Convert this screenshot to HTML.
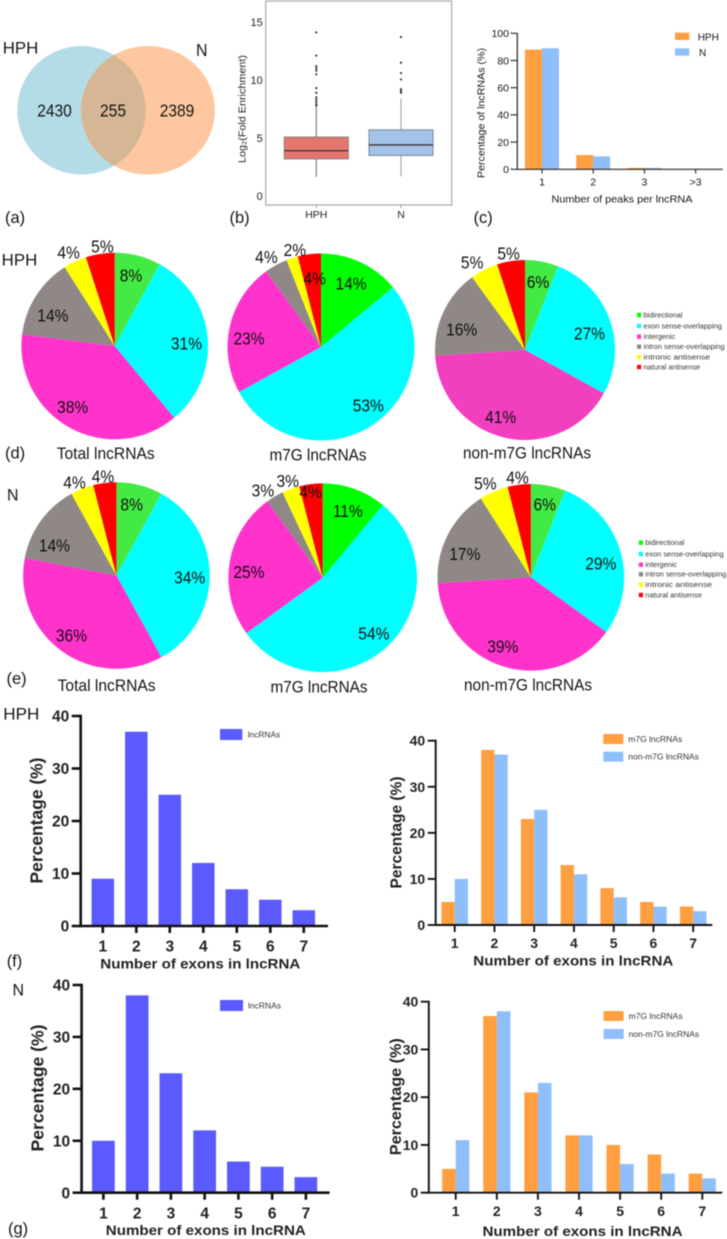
<!DOCTYPE html>
<html lang="en">
<head>
<meta charset="utf-8">
<title>lncRNA m7G multi-panel figure</title>
<style>
html,body{margin:0;padding:0;background:#fff;width:727px;height:1239px;overflow:hidden}
svg{display:block;filter:blur(.45px)}
text{font-family:"Liberation Sans",Arial,sans-serif;fill:#151515}
</style>
</head>
<body>
<svg id="fig" xmlns="http://www.w3.org/2000/svg" width="727" height="1239" viewBox="0 0 727 1239">
  <defs><clipPath id="vennClip"><ellipse cx="81.5" cy="110.3" rx="64.3" ry="64.3"/></clipPath></defs>

  <g>
    <ellipse cx="81.5" cy="110.3" rx="64.3" ry="64.3" fill="#b4dce7"/>
    <ellipse cx="148" cy="110.3" rx="67" ry="64.3" fill="#fdc8a0"/>
    <ellipse cx="148" cy="110.3" rx="67" ry="64.3" fill="#d6b795" clip-path="url(#vennClip)"/>
    <text x="54.500" y="116.500" font-size="17.500" text-anchor="middle" textLength="34.500" lengthAdjust="spacingAndGlyphs">2430</text>
    <text x="113" y="116.500" font-size="17.500" text-anchor="middle" textLength="26" lengthAdjust="spacingAndGlyphs">255</text>
    <text x="177" y="116.500" font-size="17.500" text-anchor="middle" textLength="34.500" lengthAdjust="spacingAndGlyphs">2389</text>
    <text x="2.700" y="53.300" font-size="17" textLength="35.600" lengthAdjust="spacingAndGlyphs">HPH</text>
    <text x="196" y="56" font-size="17.500" textLength="11.500" lengthAdjust="spacingAndGlyphs">N</text>
  </g>

  <g font-size="16.500">
    <text x="5" y="223">(a)</text>
    <text x="229.500" y="223">(b)</text>
    <text x="473.500" y="223">(c)</text>
    <text x="5" y="458.500">(d)</text>
    <text x="6.500" y="684">(e)</text>
    <text x="6.700" y="966.500">(f)</text>
    <text x="8" y="1234">(g)</text>
    <text x="1.700" y="265.700" font-size="16.500" textLength="35.600" lengthAdjust="spacingAndGlyphs">HPH</text>
    <text x="7" y="500.500" font-size="16.500" textLength="11.500" lengthAdjust="spacingAndGlyphs">N</text>
    <text x="3.300" y="719.300" font-size="17" textLength="36" lengthAdjust="spacingAndGlyphs">HPH</text>
    <text x="12.500" y="995.500" font-size="16.500" textLength="11.500" lengthAdjust="spacingAndGlyphs">N</text>
  </g>

  <g font-size="17">
    <text x="105.700" y="459" text-anchor="middle" textLength="98" lengthAdjust="spacingAndGlyphs">Total lncRNAs</text>
    <text x="318" y="460.500" text-anchor="middle" textLength="97" lengthAdjust="spacingAndGlyphs">m7G lncRNAs</text>
    <text x="527" y="458.500" text-anchor="middle" textLength="128" lengthAdjust="spacingAndGlyphs">non-m7G lncRNAs</text>
    <text x="106.600" y="691" text-anchor="middle" textLength="98" lengthAdjust="spacingAndGlyphs">Total lncRNAs</text>
    <text x="319" y="692.500" text-anchor="middle" textLength="97" lengthAdjust="spacingAndGlyphs">m7G lncRNAs</text>
    <text x="528" y="690.500" text-anchor="middle" textLength="128" lengthAdjust="spacingAndGlyphs">non-m7G lncRNAs</text>
  </g>
</svg>

<script>
// ---------- chart data ----------
const boxCategories = ['HPH', 'N'];
const boxTicks = [0, 5, 10, 15];
const boxLow = [1.65, 1.7];
const boxQ1 = [3.2, 3.5];
const boxMedian = [3.9, 4.4];
const boxQ3 = [5.08, 5.7];
const boxHigh = [7.7, 8.4];
const boxOutliersHph = [14.1, 12.1, 11.2, 11, 10.8, 10.5, 9.3, 8.9, 8.5, 8.3, 8.1, 7.9, 7.8];
const boxOutliersN = [13.7, 11.5, 10.6, 10.05, 9.2, 9.05, 8.9];

const peakCategories = ['1', '2', '3', '>3'];
const peakTicks = [0, 20, 40, 60, 80, 100];
const peakHph = [88, 10.5, 1, 0.2];
const peakN = [89, 9.5, 1, 0.2];

const pieCategories = ['bidirectional', 'exon sense-overlapping', 'intergenic', 'intron sense-overlapping', 'intronic antisense', 'natural antisense'];
const hphTotal = [8, 31, 38, 14, 4, 5];
const hphM7g = [14, 53, 23, 4, 2, 4];
const hphNonM7g = [6, 27, 41, 16, 5, 5];
const nTotal = [8, 34, 36, 14, 4, 4];
const nM7g = [11, 54, 25, 3, 3, 4];
const nNonM7g = [6, 29, 39, 17, 5, 4];

const exonCategories = ['1', '2', '3', '4', '5', '6', '7'];
const exonTicks = [0, 10, 20, 30, 40];
const hphExonAll = [9, 37, 25, 12, 7, 5, 3];
const hphExonM7g = [5, 38, 23, 13, 8, 5, 4];
const hphExonNon = [10, 37, 25, 11, 6, 4, 3];
const nExonAll = [10, 38, 23, 12, 6, 5, 3];
const nExonM7g = [5, 37, 21, 12, 10, 8, 4];
const nExonNon = [11, 38, 23, 12, 6, 4, 3];

// ---------- helpers ----------
const SVGNS = 'http://www.w3.org/2000/svg';
const fig = document.getElementById('fig');
const ORANGE = '#ff9f40';
const BLUE = '#8fbffa';
const INDIGO = '#5a5aff';

function shape(parent, tag, name, props) {
  const el = document.createElementNS(SVGNS, tag);
  
  
  for (const k in props) el.setAttribute(k, props[k]);
  parent.appendChild(el);
  return el;
}
function group(name) {
  const el = document.createElementNS(SVGNS, 'g');
  
  
  fig.appendChild(el);
  return el;
}
function label(parent, name, str, x, y, size, o) {
  o = o || {};
  const el = document.createElementNS(SVGNS, 'text');
  
  
  el.setAttribute('transform', 'translate(' + x + ',' + y + ') rotate(' + (o.rot || 0) + ') scale(' + (o.sx || 1) + ',1)');
  el.setAttribute('font-size', size);
  el.setAttribute('text-anchor', o.anchor || 'middle');
  if (o.weight) el.setAttribute('font-weight', o.weight);
  if (o.fill) el.style.fill = o.fill;
  if (o.len) {
    el.setAttribute('textLength', o.len);
    el.setAttribute('lengthAdjust', 'spacingAndGlyphs');
  }
  el.textContent = str;
  parent.appendChild(el);
  return el;
}

// ---------- box plot (b) ----------
function drawBoxPlot() {
  const g = group('box-plot');
  const yScale = v => 196 - v * 11.6;
  const xCenters = i => 316.3 + i * 84.7;
  const halfW = 32;
  shape(g, 'rect', 'box-plot-frame', {x: 265.7, y: 1, width: 186, height: 204, fill: 'none', stroke: '#a8a8a8', 'stroke-width': 1.2});
  boxTicks.forEach(t => {
    label(g, 'box-y-tick-label', String(t), 262.7, yScale(t) + 4, 11, {anchor: 'end', fill: '#222'});
  });
  const fills = ['#e5756f', '#a4c3e8'];
  const edges = ['#8f7f7f', '#7d8ea0'];
  const whiskers = ['#777', '#a0a0a0'];
  const outliers = [boxOutliersHph, boxOutliersN];
  boxCategories.forEach((c, i) => {
    const cx = xCenters(i);
    shape(g, 'line', 'box-whisker-' + c, {x1: cx, x2: cx, y1: yScale(boxLow[i]), y2: yScale(boxHigh[i]), stroke: whiskers[i], 'stroke-width': 1.1});
    shape(g, 'rect', 'box-' + c, {x: cx - halfW, y: yScale(boxQ3[i]), width: halfW * 2, height: yScale(boxQ1[i]) - yScale(boxQ3[i]), fill: fills[i], stroke: edges[i], 'stroke-width': 1.1});
    shape(g, 'line', 'box-median-' + c, {x1: cx - halfW, x2: cx + halfW, y1: yScale(boxMedian[i]), y2: yScale(boxMedian[i]), stroke: '#3a3038', 'stroke-width': 1.3});
    outliers[i].forEach(v => {
      shape(g, 'circle', 'box-outlier-' + c, {cx: cx, cy: yScale(v), r: 1.1, fill: '#333'});
    });
    shape(g, 'line', 'box-x-tick', {x1: cx, x2: cx, y1: 205, y2: 208, stroke: '#999', 'stroke-width': 1});
    label(g, 'box-x-tick-label', c, cx, 218, 10.5, {fill: '#222'});
  });
  label(g, 'box-y-axis-title', 'Log\u2082(Fold Enrichment)', 245.7, 109, 10.5, {rot: -90, len: 108, fill: '#222'});
}
drawBoxPlot();

// ---------- peak bars (c) ----------
function drawPeakChart() {
  const g = group('peak-bar-chart');
  const yScale = v => 169.3 - v * 1.36;
  const xScale = i => 542 + i * 51.2;
  const bw = 17;
  peakCategories.forEach((c, i) => {
    shape(g, 'rect', 'peak-bar-hph-' + c, {x: xScale(i) - bw, y: yScale(peakHph[i]), width: bw, height: 169.3 - yScale(peakHph[i]), fill: ORANGE});
    shape(g, 'rect', 'peak-bar-n-' + c, {x: xScale(i), y: yScale(peakN[i]), width: bw, height: 169.3 - yScale(peakN[i]), fill: BLUE});
    shape(g, 'line', 'peak-x-tick', {x1: xScale(i), x2: xScale(i), y1: 169.3, y2: 173.5, stroke: '#222', 'stroke-width': 1.1});
    label(g, 'peak-x-tick-label', c, xScale(i), 185.5, 10.5);
  });
  peakTicks.forEach(t => {
    shape(g, 'line', 'peak-y-tick', {x1: 510.5, x2: 517.3, y1: yScale(t), y2: yScale(t), stroke: '#222', 'stroke-width': 1.1});
    label(g, 'peak-y-tick-label', String(t), 509, yScale(t) + 3.8, 10.5, {anchor: 'end'});
  });
  shape(g, 'line', 'peak-y-axis', {x1: 517.3, x2: 517.3, y1: 33, y2: 169.9, stroke: '#222', 'stroke-width': 1.2});
  shape(g, 'line', 'peak-x-axis', {x1: 517.3, x2: 722.7, y1: 169.3, y2: 169.3, stroke: '#222', 'stroke-width': 1.2});
  label(g, 'peak-x-axis-title', 'Number of peaks per lncRNA', 622, 202.5, 10.5, {len: 141});
  label(g, 'peak-y-axis-title', 'Percentage of lncRNAs (%)', 484.5, 113, 10.5, {rot: -90, len: 130});
  shape(g, 'rect', 'peak-legend-swatch-hph', {x: 675, y: 32.7, width: 14.3, height: 7.3, fill: ORANGE});
  shape(g, 'rect', 'peak-legend-swatch-n', {x: 675, y: 48.3, width: 14.3, height: 7.4, fill: BLUE});
  label(g, 'peak-legend-label-hph', 'HPH', 697.7, 40.5, 10, {anchor: 'start'});
  label(g, 'peak-legend-label-n', 'N', 699, 55.8, 10, {anchor: 'start'});
}
drawPeakChart();

// ---------- pies (d, e) ----------
function drawPie(name, values, cx, cy, r, colors, placement) {
  const g = group(name);
  const total = values.reduce((a, b) => a + b, 0);
  const pt = (deg, rad) => [cx + rad * Math.sin(deg * Math.PI / 180), cy - rad * Math.cos(deg * Math.PI / 180)];
  let acc = 0;
  values.forEach((v, i) => {
    const a0 = acc / total * 360;
    const a1 = (acc + v) / total * 360;
    const p0 = pt(a0, r);
    const p1 = pt(a1, r);
    const large = a1 - a0 > 180 ? 1 : 0;
    shape(g, 'path', name + '-slice-' + pieCategories[i].replace(/ /g, '-'), {
      d: 'M' + cx + ' ' + cy + 'L' + p0[0] + ' ' + p0[1] + 'A' + r + ' ' + r + ' 0 ' + large + ' 1 ' + p1[0] + ' ' + p1[1] + 'Z',
      fill: colors[i]
    });
    acc += v;
  });
  acc = 0;
  values.forEach((v, i) => {
    const mid = (acc + v / 2) / total * 360;
    const pos = pt(mid + placement[i][1], r * placement[i][0]);
    label(g, name + '-label-' + pieCategories[i].replace(/ /g, '-'), v + '%', pos[0], pos[1] + 6.3, 17.5, {sx: 0.89, fill: '#111'});
    acc += v;
  });
}
const softGreen = ['#44ea44', '#00ffff', '#ff33cc', '#8f8886', '#ffff00', '#ff0000'];
const pureGreen = ['#00ff00', '#00ffff', '#ff33cc', '#8f8886', '#ffff00', '#ff0000'];
const softMagenta = ['#44ea44', '#00ffff', '#f23fc0', '#8f8886', '#ffff00', '#ff0000'];
drawPie('pie-hph-total', hphTotal, 114.7, 346, 93.3, softGreen, [[.78,-1.5],[.77,3],[.79,6],[.74,-6],[1.12,-1],[1.08,2]]);
drawPie('pie-hph-m7g', hphM7g, 321, 347, 93.5, pureGreen, [[.755,0],[.8,-5],[.775,-5.7],[1.13,-2.3],[1.08,3],[.74,2]]);
drawPie('pie-hph-non-m7g', hphNonM7g, 525, 350, 90, softMagenta, [[.77,0],[.74,5.3],[.79,7.4],[.74,-7.1],[1.14,-4],[1.09,-.6]]);
drawPie('pie-n-total', nTotal, 116.4, 575.5, 93.3, softGreen, [[.78,-2.3],[.785,1.4],[.8,1],[.74,-9.9],[1.095,-2.6],[1.076,-.5]]);
drawPie('pie-n-m7g', nM7g, 322.7, 577.7, 94.3, pureGreen, [[.76,.7],[.8,.5],[.785,-4.3],[1.125,-3.7],[1.095,0],[.92,-.8]]);
drawPie('pie-n-non-m7g', nNonM7g, 530.8, 577.3, 93.3, softGreen, [[.795,0],[.765,4.9],[.795,6],[.75,-7.5],[1.12,-2.4],[1.08,-.4]]);

function drawPieLegend(name, x, rows) {
  const g = group(name);
  const widths = [39, 78.3, 31.7, 81, 66.7, 56.7];
  pieCategories.forEach((c, i) => {
    shape(g, 'rect', name + '-swatch', {x: x, y: rows[i] - 2.2, width: 4.2, height: 4.4, fill: pureGreen[i]});
    label(g, name + '-label', c, x + 6.5, rows[i] + 2.4, 7.2, {anchor: 'start', len: widths[i], fill: '#333'});
  });
}
drawPieLegend('pie-legend-hph', 637, [315, 326, 336.7, 346.7, 357, 367]);
drawPieLegend('pie-legend-n', 638.8, [542.7, 554, 564.7, 574.3, 584.7, 595]);

// ---------- exon bar charts (f, g) ----------
function drawExonChart(name, c) {
  const g = group(name);
  const yScale = v => c.y0 - v * (c.y0 - c.y40) / 40;
  const xScale = i => c.first + i * c.step;
  exonCategories.forEach((cat, i) => {
    c.series.forEach((s, k) => {
      const left = xScale(i) + (c.series.length === 1 ? -c.bw / 2 : (k - 1) * c.bw);
      shape(g, 'rect', name + '-bar-' + s.key + '-' + cat, {x: left, y: yScale(s.values[i]), width: c.bw, height: c.y0 - yScale(s.values[i]), fill: s.color});
    });
    shape(g, 'line', name + '-x-tick', {x1: xScale(i), x2: xScale(i), y1: c.y0, y2: c.y0 + 7, stroke: '#111', 'stroke-width': c.sw});
    label(g, name + '-x-tick-label', cat, xScale(i), c.xLabY, c.font, {weight: 'bold', fill: '#222'});
  });
  exonTicks.forEach(t => {
    shape(g, 'line', name + '-y-tick', {x1: c.axisX - c.tick, x2: c.axisX, y1: yScale(t), y2: yScale(t), stroke: '#111', 'stroke-width': c.sw});
    label(g, name + '-y-tick-label', String(t), c.axisX - c.tick - 2.5, yScale(t) + c.font * 0.36, c.font, {anchor: 'end', weight: 'bold', fill: '#222'});
  });
  shape(g, 'line', name + '-y-axis', {x1: c.axisX, x2: c.axisX, y1: c.y40 - c.sw / 2, y2: c.y0 + c.sw / 2, stroke: '#111', 'stroke-width': c.sw});
  shape(g, 'line', name + '-x-axis', {x1: c.axisX, x2: c.xEnd, y1: c.y0, y2: c.y0, stroke: '#111', 'stroke-width': c.sw});
  label(g, name + '-x-axis-title', 'Number of exons in lncRNA', c.xTitleX, c.xTitleY, 14, {weight: 'bold', len: 200, fill: '#222'});
  label(g, name + '-y-axis-title', 'Percentage (%)', c.yTitleX, c.yTitleY, c.yTitleSize, {rot: -90, weight: 'bold', len: c.yTitleLen, fill: '#222'});
  c.series.forEach((s, k) => {
    shape(g, 'rect', name + '-legend-swatch-' + s.key, {x: c.legX, y: c.legY[k], width: c.legW, height: c.legH, fill: s.color});
    label(g, name + '-legend-label-' + s.key, s.text, c.legX + c.legW + c.legGap, c.legY[k] + c.legH / 2 + 2.8, 8, {anchor: 'start', len: s.textW, fill: '#333'});
  });
}
drawExonChart('exon-chart-hph-all', {
  axisX: 80.7, xEnd: 328, y0: 926, y40: 716, first: 102.8, step: 33.5, bw: 22.5, tick: 9, sw: 2.6, font: 15.5,
  xLabY: 951.5, xTitleX: 200.3, xTitleY: 968.5, yTitleX: 42.7, yTitleY: 820.5, yTitleSize: 17.7, yTitleLen: 126,
  legX: 220, legY: [729], legW: 22.3, legH: 11, legGap: 5.4,
  series: [{key: 'lncrnas', values: hphExonAll, color: INDIGO, text: 'lncRNAs', textW: 32.5}]
});
drawExonChart('exon-chart-hph-split', {
  axisX: 435.7, xEnd: 712.3, y0: 925, y40: 740.7, first: 454.7, step: 39.75, bw: 13.3, tick: 8, sw: 1.9, font: 14,
  xLabY: 948, xTitleX: 573.3, xTitleY: 965.7, yTitleX: 401.7, yTitleY: 832.5, yTitleSize: 16, yTitleLen: 112,
  legX: 603.3, legY: [734, 751.7], legW: 20, legH: 10, legGap: 5,
  series: [
    {key: 'm7g', values: hphExonM7g, color: ORANGE, text: 'm7G lncRNAs', textW: 54},
    {key: 'non-m7g', values: hphExonNon, color: BLUE, text: 'non-m7G lncRNAs', textW: 70.5}
  ]
});
drawExonChart('exon-chart-n-all', {
  axisX: 81.6, xEnd: 329.6, y0: 1192.7, y40: 985, first: 103.4, step: 33.75, bw: 22.7, tick: 9, sw: 2.6, font: 15.5,
  xLabY: 1218.5, xTitleX: 205.8, xTitleY: 1235, yTitleX: 43.7, yTitleY: 1088, yTitleSize: 17.7, yTitleLen: 127,
  legX: 220, legY: [1000], legW: 23, legH: 11, legGap: 5,
  series: [{key: 'lncrnas', values: nExonAll, color: INDIGO, text: 'lncRNAs', textW: 33}]
});
drawExonChart('exon-chart-n-split', {
  axisX: 428.8, xEnd: 722.3, y0: 1192.7, y40: 1001.7, first: 455.7, step: 41.1, bw: 13.6, tick: 8, sw: 1.9, font: 14,
  xLabY: 1216, xTitleX: 582.5, xTitleY: 1236, yTitleX: 401, yTitleY: 1096.7, yTitleSize: 16, yTitleLen: 117,
  legX: 603.6, legY: [1011, 1029], legW: 20, legH: 10, legGap: 5,
  series: [
    {key: 'm7g', values: nExonM7g, color: ORANGE, text: 'm7G lncRNAs', textW: 54},
    {key: 'non-m7g', values: nExonNon, color: BLUE, text: 'non-m7G lncRNAs', textW: 70.5}
  ]
});
</script>
</body>
</html>
